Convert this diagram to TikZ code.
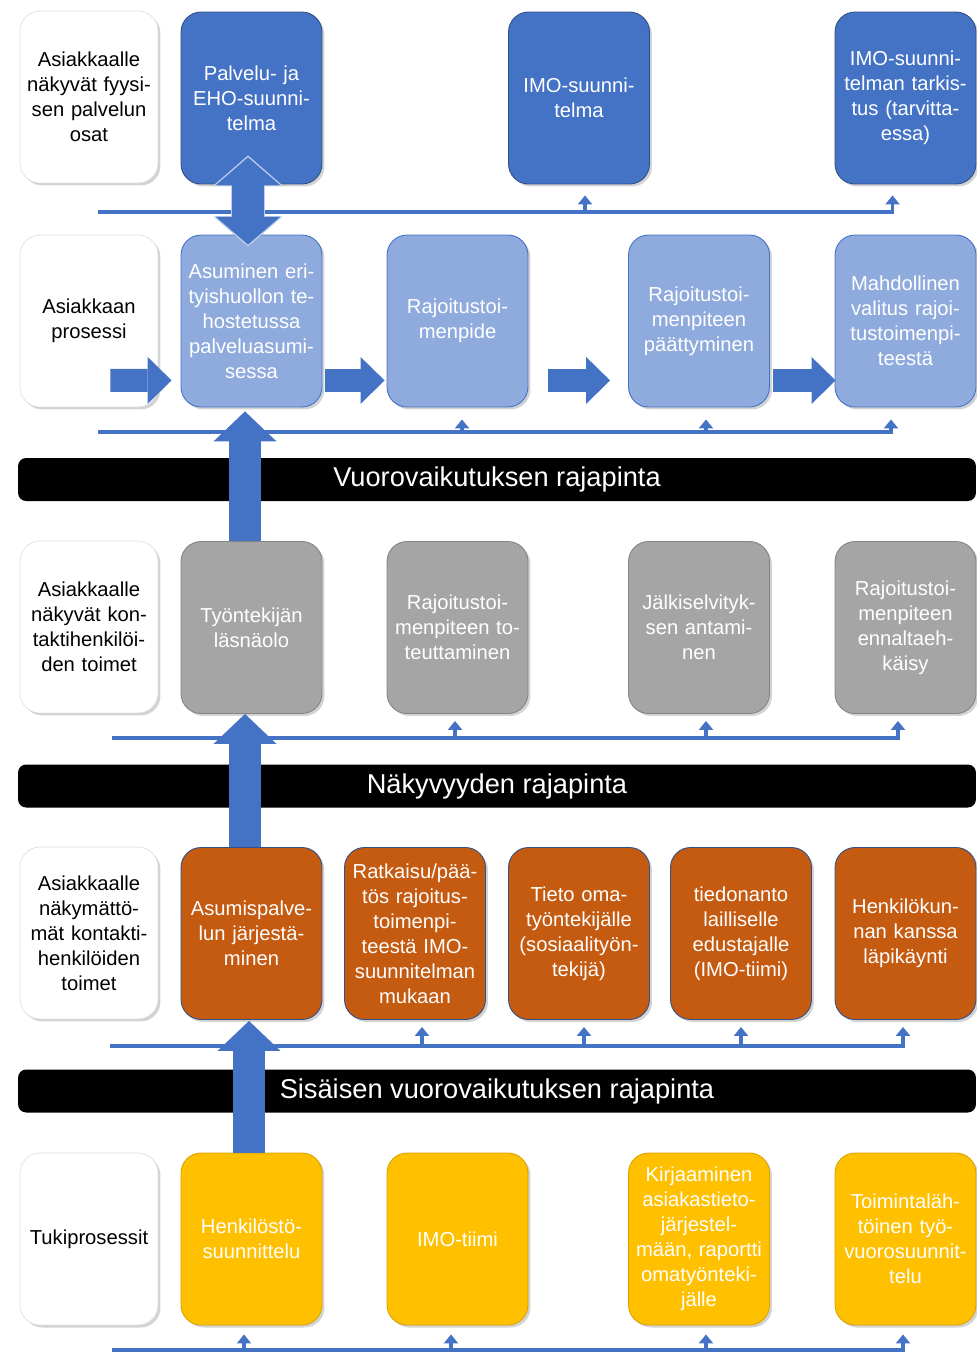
\documentclass[tikz,border=0pt]{standalone}
\usepackage{fontspec}
\setmainfont{Liberation Sans}
\usetikzlibrary{arrows.meta, shadows}

\definecolor{plan}{HTML}{4472C4}
\definecolor{proc}{HTML}{8FAADC}
\definecolor{cont}{HTML}{A5A5A5}
\definecolor{back}{HTML}{C55A11}
\definecolor{supp}{HTML}{FFC000}
\definecolor{flow}{HTML}{4472C4}

\begin{document}
\begin{tikzpicture}[x = 0.02cm, y = -0.02cm,
    box/.style = {rounded corners = 0.4cm, minimum width = 2.82cm, minimum height = 3.44cm,
      text width = 2.7cm, align = center, inner sep = 0pt, text = white,
      font = \fontsize{11.5}{14.2}\selectfont,
      drop shadow = {shadow xshift = 0.05cm, shadow yshift = -0.05cm, opacity = 0.35}},
    lab/.style = {box, minimum width = 2.76cm, fill = white, draw = black!12, text = black},
    planbox/.style = {box, fill = plan, draw = plan!70!black, line width = 0.5pt},
    procbox/.style = {box, fill = proc, draw = plan, line width = 0.5pt},
    contbox/.style = {box, fill = cont, draw = cont!80!black, line width = 0.5pt},
    backbox/.style = {box, fill = back, draw = plan!70!black, line width = 0.5pt},
    suppbox/.style = {box, fill = supp, draw = supp!85!black, line width = 0.5pt},
    bar/.style = {fill = black, rounded corners = 0.16cm, minimum width = 19.16cm,
      minimum height = 0.86cm, inner sep = 0pt, text = white,
      font = \fontsize{15.5}{18}\selectfont},
    feed/.style = {draw = flow, line width = 2.2pt,
      -{Triangle[width = 0.28cm, length = 0.18cm]}},
    bigup/.style = {draw = flow, line width = 0.64cm,
      -{Triangle[width = 1.26cm, length = 0.6cm, line width = 0pt]}},
    bigboth/.style = {draw = flow, line width = 0.64cm,
      {Triangle[width = 1.3cm, length = 0.56cm, line width = 0pt]}-{Triangle[width = 1.3cm, length = 0.56cm, line width = 0pt]}},
    bigrim/.style = {draw = proc!60!white, line width = 0.7cm,
      {Triangle[width = 1.38cm, length = 0.6cm, line width = 0pt]}-{Triangle[width = 1.38cm, length = 0.6cm, line width = 0pt]}},
    bigright/.style = {draw = flow, line width = 0.46cm,
      -{Triangle[width = 0.94cm, length = 0.48cm, line width = 0pt]}}]

  \useasboundingbox (0,0) rectangle (977,1353);

  % row labels
  \node[lab] (fyys) at (89,97) {Asiakkaalle\\näkyvät fyysi-\\sen palvelun\\osat};
  \node[lab] (pros) at (89,321) {Asiakkaan\\prosessi};
  \node[lab] (kont) at (89,627) {Asiakkaalle\\näkyvät kon-\\taktihenkilöi-\\den toimet};
  \node[lab] (nakym) at (89,933) {Asiakkaalle\\näkymättö-\\mät kontakti-\\henkilöiden\\toimet};
  \node[lab] (tuki) at (89,1239) {Tukiprosessit};

  % physical evidence
  \node[planbox] (suun) at (251.5,98) {Palvelu- ja\\EHO-suunni-\\telma};
  \node[planbox] (imo) at (579,98) {IMO-suunni-\\telma};
  \node[planbox] (tark) at (905.5,98) {IMO-suunni-\\telman tarkis-\\tus (tarvitta-\\essa)};

  % customer process
  \node[procbox] (asum) at (251.5,321) {Asuminen eri-\\tyishuollon te-\\hostetussa\\palveluasumi-\\sessa};
  \node[procbox] (rtp) at (457.5,321) {Rajoitustoi-\\menpide};
  \node[procbox] (paat) at (699,321) {Rajoitustoi-\\menpiteen\\päättyminen};
  \node[procbox] (valit) at (905.5,321) {Mahdollinen\\valitus rajoi-\\tustoimenpi-\\teestä};

  % onstage
  \node[contbox] (lasna) at (251.5,627.5) {Työntekijän\\läsnäolo};
  \node[contbox] (toteu) at (457.5,627.5) {Rajoitustoi-\\menpiteen to-\\teuttaminen};
  \node[contbox] (jalki) at (699,627.5) {Jälkiselvityk-\\sen antami-\\nen};
  \node[contbox] (ennalt) at (905.5,627.5) {Rajoitustoi-\\menpiteen\\ennaltaeh-\\käisy};

  % backstage
  \node[backbox] (jarj) at (251.5,933.5) {Asumispalve-\\lun järjestä-\\minen};
  \node[backbox] (ratk) at (415,933.5) {Ratkaisu/pää-\\tös rajoitus-\\toimenpi-\\teestä IMO-\\suunnitelman\\mukaan};
  \node[backbox] (tieto) at (579,933.5) {Tieto oma-\\työntekijälle\\(sosiaalityön-\\tekijä)};
  \node[backbox] (tiedon) at (741,933.5) {tiedonanto\\lailliselle\\edustajalle\\(IMO-tiimi)};
  \node[backbox] (henk) at (905.5,933.5) {Henkilökun-\\nan kanssa\\läpikäynti};

  % support
  \node[suppbox] (hsuun) at (251.5,1239) {Henkilöstö-\\suunnittelu};
  \node[suppbox] (imot) at (457.5,1239) {IMO-tiimi};
  \node[suppbox] (kirj) at (699,1239) {Kirjaaminen\\asiakastieto-\\järjestel-\\mään, raportti\\omatyönteki-\\jälle};
  \node[suppbox] (tvs) at (905.5,1239) {Toimintaläh-\\töinen työ-\\vuorosuunnit-\\telu};

  % lines of interaction
  \node[bar] (bar1) at (497,479.5) {Vuorovaikutuksen rajapinta};
  \node[bar] (bar2) at (497,786) {Näkyvyyden rajapinta};
  \node[bar] (bar3) at (497,1091) {Sisäisen vuorovaikutuksen rajapinta};

  % feed lines
  \coordinate (f1) at (98,212);
  \draw[feed] (f1) -| ([xshift=-0.26cm,yshift=-0.22cm]tark.south);
  \draw[feed] ([xshift=0.12cm]imo.south |- f1) -- ([xshift=0.12cm,yshift=-0.22cm]imo.south);

  \coordinate (f2) at (98,432);
  \draw[feed] (f2) -| ([xshift=-0.29cm,yshift=-0.24cm]valit.south);
  \draw[feed] ([xshift=0.09cm]rtp.south |- f2) -- ([xshift=0.09cm,yshift=-0.24cm]rtp.south);
  \draw[feed] ([xshift=0.14cm]paat.south |- f2) -- ([xshift=0.14cm,yshift=-0.24cm]paat.south);

  \coordinate (f3) at (112,738);
  \draw[feed] (f3) -| ([xshift=-0.15cm,yshift=-0.14cm]ennalt.south);
  \draw[feed] ([xshift=-0.05cm]toteu.south |- f3) -- ([xshift=-0.05cm,yshift=-0.14cm]toteu.south);
  \draw[feed] ([xshift=0.14cm]jalki.south |- f3) -- ([xshift=0.14cm,yshift=-0.14cm]jalki.south);

  \coordinate (f4) at (110,1046);
  \draw[feed] (f4) -| ([xshift=-0.05cm,yshift=-0.14cm]henk.south);
  \draw[feed] ([xshift=0.14cm]ratk.south |- f4) -- ([xshift=0.14cm,yshift=-0.14cm]ratk.south);
  \draw[feed] ([xshift=0.1cm]tieto.south |- f4) -- ([xshift=0.1cm,yshift=-0.14cm]tieto.south);
  \draw[feed] (tiedon.south |- f4) -- ([yshift=-0.14cm]tiedon.south);

  \coordinate (f5) at (112,1350);
  \draw[feed] (f5) -| ([xshift=-0.05cm,yshift=-0.18cm]tvs.south);
  \draw[feed] ([xshift=-0.15cm]hsuun.south |- f5) -- ([xshift=-0.15cm,yshift=-0.18cm]hsuun.south);
  \draw[feed] ([xshift=-0.13cm]imot.south |- f5) -- ([xshift=-0.13cm,yshift=-0.18cm]imot.south);
  \draw[feed] ([xshift=0.14cm]kirj.south |- f5) -- ([xshift=0.14cm,yshift=-0.18cm]kirj.south);

  % process flow
  \draw[bigright] ([xshift=-0.96cm,yshift=0.54cm]pros.south east) -- ([xshift=-0.18cm,yshift=0.54cm]asum.south west);
  \draw[bigright] ([xshift=0.06cm,yshift=0.54cm]asum.south east) -- ([xshift=-0.04cm,yshift=0.54cm]rtp.south west);
  \draw[bigright] ([xshift=0.4cm,yshift=0.54cm]rtp.south east) -- ([xshift=-0.36cm,yshift=0.54cm]paat.south west);
  \draw[bigright] ([xshift=0.06cm,yshift=0.54cm]paat.south east) -- ([xshift=0.02cm,yshift=0.54cm]valit.south west);

  % vertical links
  \draw[bigrim] ([xshift=-0.07cm,yshift=0.58cm]suun.south) -- ([xshift=-0.07cm,yshift=-0.24cm]asum.north);
  \draw[bigboth] ([xshift=-0.07cm,yshift=0.54cm]suun.south) -- ([xshift=-0.07cm,yshift=-0.2cm]asum.north);
  \draw[bigup] ([xshift=-0.13cm]lasna.north) -- ([xshift=-0.13cm,yshift=-0.08cm]asum.south);
  \draw[bigup] ([xshift=-0.13cm]jarj.north) -- ([xshift=-0.13cm]lasna.south);
  \draw[bigup] ([xshift=-0.05cm]hsuun.north) -- ([xshift=-0.05cm,yshift=-0.02cm]jarj.south);
\end{tikzpicture}
\end{document}
